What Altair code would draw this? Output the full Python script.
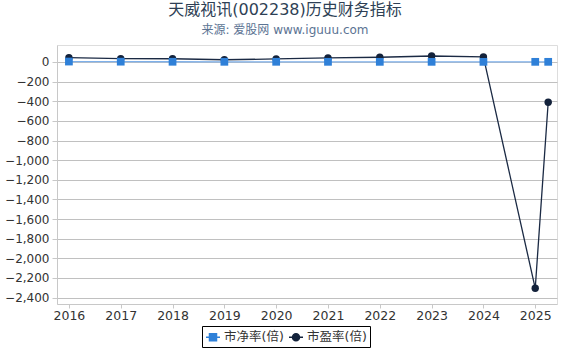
import altair as alt
import pandas as pd

years = [2016, 2017, 2018, 2019, 2020, 2021, 2022, 2023, 2024, 2025, 2025.25]
pb_values = [4.5, 3.2, 2.3, 1.9, 2.0, 1.7, 1.5, 1.6, 1.4, 1.5, 1.6]
pe_values = [44, 34, 33, 23, 31, 41, 48, 61, 52, -2305, -410]
series_names = ["市净率(倍)", "市盈率(倍)"]
tick_years = [2016, 2017, 2018, 2019, 2020, 2021, 2022, 2023, 2024, 2025]
y_ticks = list(range(-2400, 1, 200))

rows = []
for yr, v in zip(years, pb_values):
    rows.append({"year": yr, "value": v, "series": series_names[0]})
for yr, v in zip(years, pe_values):
    rows.append({"year": yr, "value": v, "series": series_names[1]})
df = pd.DataFrame(rows)

FONT = "DejaVu Sans, Noto Sans CJK SC"

x = alt.X("year:Q",
          scale=alt.Scale(domain=[2015.77, 2025.42], nice=False, zero=False),
          axis=alt.Axis(values=tick_years, format="d", title=None, grid=False,
                        labelFont=FONT, labelFontSize=12.5, labelColor="#333",
                        domainColor="#c8c8c8", tickColor="#c8c8c8", tickSize=4,
                        labelPadding=1))
y = alt.Y("value:Q",
          scale=alt.Scale(domain=[-2465, 173], nice=False, zero=False),
          axis=alt.Axis(values=y_ticks, format=",d", title=None, grid=True,
                        gridColor="#c0c0c0", labelFont=FONT, labelFontSize=12,
                        labelColor="#333", domainColor="#c8c8c8", tickColor="#c8c8c8",
                        tickSize=5, labelPadding=3))

line_colors = ["#7eb0ea", "#1b2a44"]
marker_colors = ["#2f80d8", "#13223b"]

lines = alt.Chart(df).mark_line(strokeWidth=1.3).encode(
    x=x, y=y,
    color=alt.Color("series:N", scale=alt.Scale(domain=series_names, range=line_colors), legend=None),
)

pe_markers = alt.Chart(df).transform_filter(
    alt.datum.series == series_names[1]
).mark_point(filled=True, size=55, opacity=1, shape="circle", color=marker_colors[1]).encode(x=x, y=y)

pb_markers = alt.Chart(df).transform_filter(
    alt.datum.series == series_names[0]
).mark_point(filled=True, size=60, opacity=1, shape="square", color=marker_colors[0]).encode(x=x, y=y)

leg = alt.Legend(orient="none", legendX=145, legendY=281, direction="horizontal",
                 title=None, strokeColor="#000", padding=3, labelFontSize=12.5,
                 labelFont=FONT, labelColor="#333", symbolSize=196,
                 symbolStrokeWidth=1.5, symbolOpacity=1, columnPadding=2,
                 labelOffset=3, cornerRadius=0)

sq_path = "M-1,0H1M-0.5,-0.5H0.5V0.5H-0.5Z"
ci_path = "M-1,0H1M-0.5,0A0.5,0.5 0 1,0 0.5,0A0.5,0.5 0 1,0 -0.5,0Z"

legend_layer = alt.Chart(df).mark_point(filled=True, opacity=0).encode(
    x=x, y=y,
    fill=alt.Fill("series:N", scale=alt.Scale(domain=series_names, range=marker_colors), legend=leg),
    stroke=alt.Stroke("series:N", scale=alt.Scale(domain=series_names, range=marker_colors), legend=leg),
    shape=alt.Shape("series:N", scale=alt.Scale(domain=series_names, range=[sq_path, ci_path]), legend=leg),
)

chart = alt.layer(lines, pe_markers, pb_markers, legend_layer).resolve_scale(
    fill="independent", stroke="independent", shape="independent"
).properties(
    width=500, height=259,
    padding={"left": 57, "top": 45, "right": 13, "bottom": 46},
    autosize="none",
    title=alt.TitleParams(text="天威视讯(002238)历史财务指标",
                          subtitle="来源: 爱股网 www.iguuu.com",
                          anchor="middle", dx=-22, fontSize=16, subtitleFontSize=12,
                          color="#2e3f55", subtitleColor="#5b7393", font=FONT,
                          subtitleFont=FONT, fontWeight="normal",
                          subtitleFontWeight="normal", offset=9, subtitlePadding=7),
).configure_view(stroke=None).configure(background="white")

chart.save("out.html", embed_options={"renderer": "svg", "actions": False})
